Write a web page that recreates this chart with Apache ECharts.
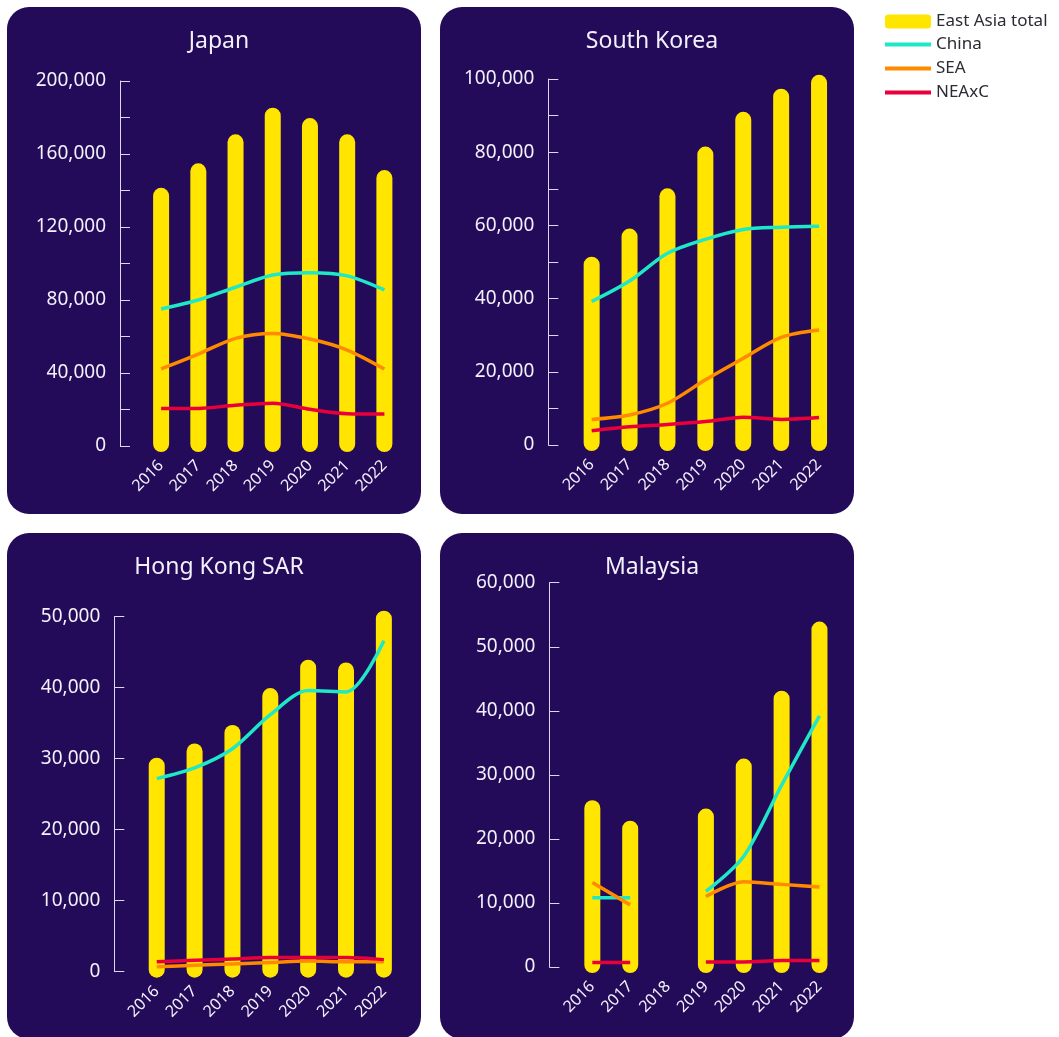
<!DOCTYPE html>
<html><head><meta charset="utf-8">
<script src="https://cdn.jsdelivr.net/npm/echarts@6/dist/echarts.min.js"></script>
<style>html,body{margin:0;padding:0;background:#fff}#c{width:1059px;height:1037px}</style>
</head><body><div id="c"></div><script>
// ---- data ----
const years = ['2016','2017','2018','2019','2020','2021','2022'];
const panelTitles = ['Japan','South Korea','Hong Kong SAR','Malaysia'];
const seriesNames = ['East Asia total','China','SEA','NEAxC'];

const japanTotal = [138200, 151600, 167500, 182100, 176400, 167500, 147900];
const japanChina = [75100, 80000, 87000, 93700, 95000, 93200, 85500];
const japanSEA   = [42200, 50400, 59000, 61700, 58600, 52600, 42200];
const japanNEAxC = [20500, 20600, 22300, 23400, 20100, 17700, 17500];

const koreaTotal = [49800, 57500, 68500, 79900, 89400, 95700, 99500];
const koreaChina = [39200, 44800, 52400, 56200, 58900, 59500, 59800];
const koreaSEA   = [7000, 8200, 11400, 17800, 23700, 29400, 31400];
const koreaNEAxC = [3900, 5000, 5600, 6400, 7600, 7000, 7500];

const hkTotal = [29300, 31300, 33900, 39100, 43100, 42700, 50000];
const hkChina = [27200, 28700, 31400, 36200, 39600, 39400, 46600];
const hkSEA   = [700, 900, 1100, 1300, 1500, 1400, 1400];
const hkNEAxC = [1400, 1600, 1800, 2000, 2000, 2000, 1700];

const myTotal = [25100, 21900, null, 23800, 31600, 42200, 53000];
const myChina = [10800, 10800, null, 11800, 17300, 28400, 39200];
const mySEA   = [13200, 9700, null, 11000, 13300, 12900, 12500];
const myNEAxC = [700, 700, null, 800, 800, 1000, 1000];

// y-axis scales
const yMax      = [200000, 100000, 50000, 60000];
const yTick     = [20000, 10000, 10000, 10000];
const yLabelStep= [40000, 20000, 10000, 10000];

const panelData = [
  [japanTotal, japanChina, japanSEA, japanNEAxC],
  [koreaTotal, koreaChina, koreaSEA, koreaNEAxC],
  [hkTotal, hkChina, hkSEA, hkNEAxC],
  [myTotal, myChina, mySEA, myNEAxC]
];

// ---- style / layout ----
const BG = '#230b59';
const YELLOW = '#ffe500';
const COLORS = [YELLOW, '#1ee8c8', '#ff8a00', '#e8003d'];
const FONT = 'Noto Sans';
const AXIS_COL = '#dcd8ee';
const TEXT_COL = '#f2f0fa';

const panelRects = [
  {x:7, y:7, w:414, h:507},
  {x:440, y:7, w:414, h:507},
  {x:7, y:533, w:414, h:506},
  {x:440, y:533, w:414, h:506}
];
const grids = [
  {left:142.5, top:81, width:260.5, height:365, off:22.5},
  {left:572.7, top:79, width:265.3, height:366, off:24.4},
  {left:137.8, top:616.7, width:265, height:355, off:23.5},
  {left:573.4, top:582.7, width:265, height:384.3, off:24}
];

const chart = echarts.init(document.getElementById('c'), null, {renderer:'canvas'});

const fmt = v => v.toLocaleString('en-US');

const option = {
  backgroundColor: '#ffffff',
  animation: false,
  textStyle: {fontFamily: FONT},
  graphic: panelRects.map(r => ({
    type:'rect', z:-10, silent:true,
    shape:{x:r.x, y:r.y, width:r.w, height:r.h, r:22},
    style:{fill:BG}
  })),
  title: panelTitles.map((t,i) => ({
    text: t,
    left: panelRects[i].x + panelRects[i].w/2,
    top: panelRects[i].y + 18,
    textAlign: 'center',
    textStyle: {color: TEXT_COL, fontSize: 23, fontWeight: 'normal', fontFamily: FONT}
  })),
  legend: [
    {
      data: [{name: seriesNames[0], icon: 'roundRect'}],
      left: 885, top: 13, itemWidth: 46, itemHeight: 14, padding: 0,
      textStyle: {color:'#2b2b35', fontSize: 17, fontFamily: FONT},
      selectedMode: false
    },
    {
      data: seriesNames.slice(1).map(n => ({name:n, icon:'rect'})),
      orient: 'vertical',
      left: 885, top: 36, itemWidth: 46, itemHeight: 4, itemGap: 7, padding: 0,
      textStyle: {color:'#2b2b35', fontSize: 17, fontFamily: FONT},
      selectedMode: false
    }
  ],
  grid: grids.map(g => ({left:g.left, top:g.top, width:g.width, height:g.height})),
  xAxis: grids.map((g,i) => ({
    type:'category', gridIndex:i, data: years, boundaryGap: true,
    axisLine:{show:false}, axisTick:{show:false},
    axisLabel:{rotate:45, margin:17, color:TEXT_COL, fontSize:16, fontFamily:FONT, interval:0}
  })),
  yAxis: grids.map((g,i) => ({
    type:'value', gridIndex:i, min:0, max:yMax[i], interval:yTick[i],
    offset: g.off,
    splitLine:{show:false},
    axisLine:{show:true, lineStyle:{color:AXIS_COL, width:1}},
    axisTick:{show:true, inside:true, length:10, lineStyle:{color:AXIS_COL, width:1}},
    axisLabel:{
      color:TEXT_COL, fontSize:19, fontFamily:FONT, margin:14,
      formatter: v => (v % yLabelStep[i] === 0 ? fmt(v) : '')
    }
  })),
  series: []
};

panelData.forEach((arrs, i) => {
  option.series.push({
    name: seriesNames[0], type:'custom', xAxisIndex:i, yAxisIndex:i,
    itemStyle:{color:YELLOW},
    data: arrs[0].map((v,k) => [k, v == null ? '-' : v]),
    encode:{x:0, y:1},
    renderItem: (params, api) => {
      const v = api.value(1);
      if (v == null || isNaN(v)) return null;
      const top = api.coord([api.value(0), v]);
      const base = api.coord([api.value(0), 0]);
      const w = 16, cap = 6;
      return {
        type:'rect',
        shape:{x: top[0]-w/2, y: top[1]-cap, width: w, height: base[1]-top[1]+2*cap, r: w/2},
        style:{fill: YELLOW}
      };
    }
  });
  for (let s = 1; s < 4; s++) {
    option.series.push({
      name: seriesNames[s], type:'line', xAxisIndex:i, yAxisIndex:i,
      data: arrs[s], symbol:'none', smooth:0.3,
      connectNulls:false,
      itemStyle:{color:COLORS[s]},
      lineStyle:{color:COLORS[s], width:3.5}
    });
  }
});

chart.setOption(option);
</script></body></html>
